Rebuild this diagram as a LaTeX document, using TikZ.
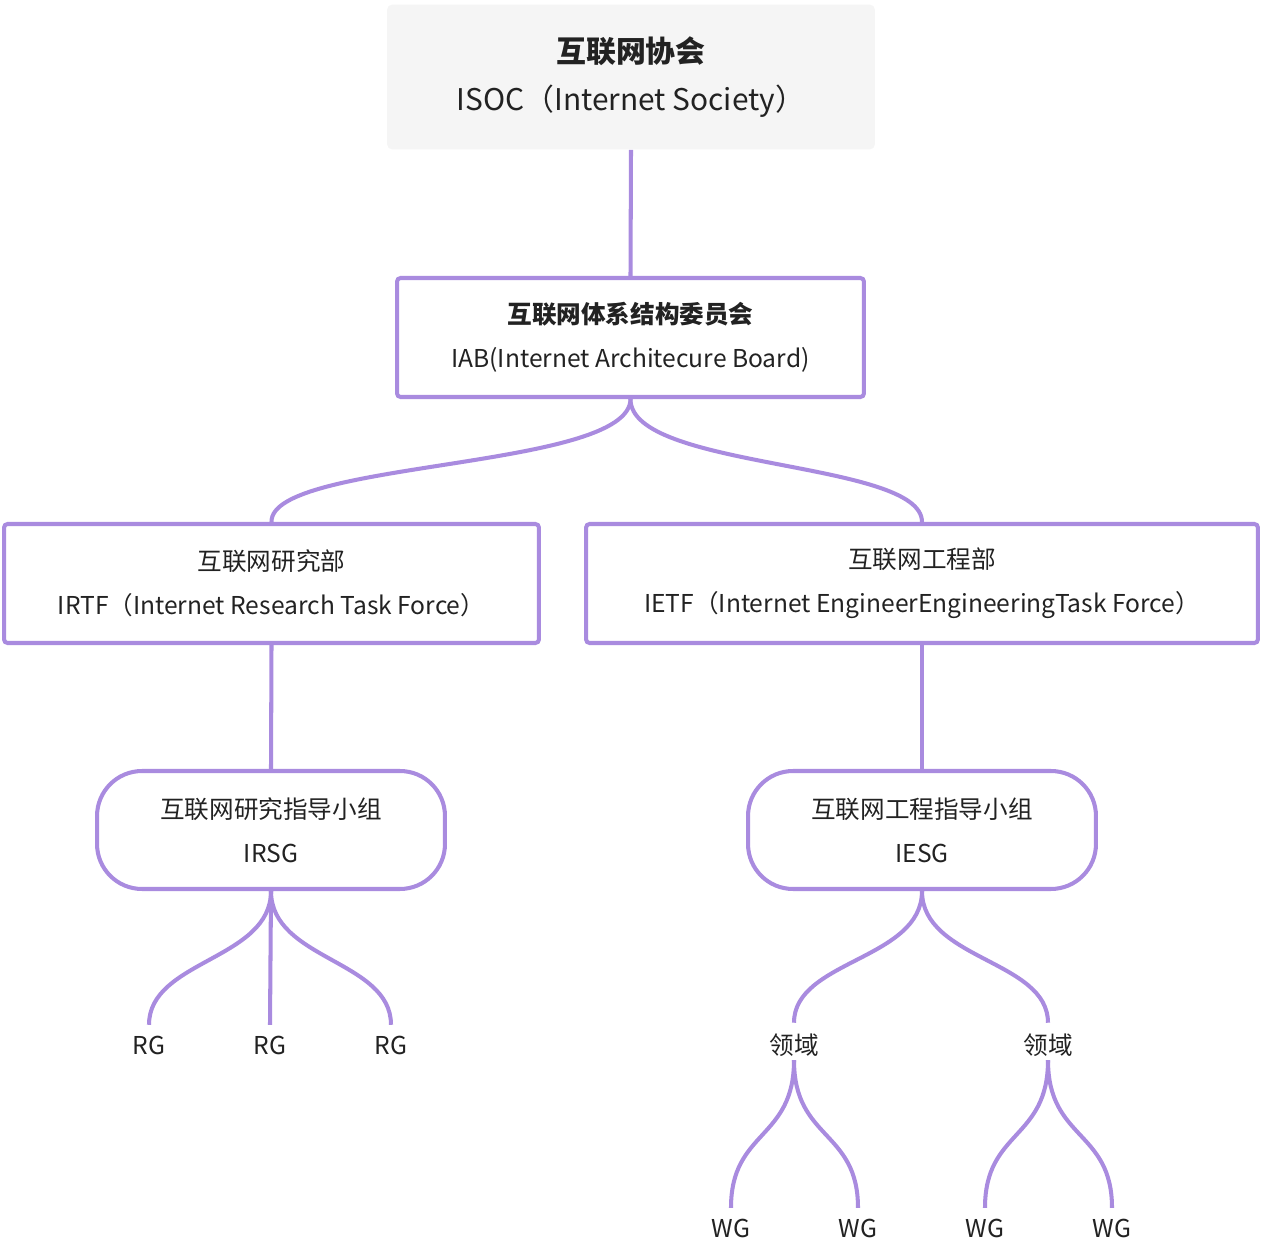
\documentclass[tikz,border=0pt]{standalone}
\usepackage{fontspec}
\setmainfont{Noto Sans CJK SC}
\definecolor{Link}{HTML}{A98BDF}
\definecolor{Top}{HTML}{F5F5F5}
\definecolor{Txt}{HTML}{222222}

\tikzset{
  box/.style={draw=Link, line width=2.3pt, rounded corners=2pt, align=center, text=Txt, inner sep=0pt},
  pill/.style={box, rounded corners=0.9cm},
  leaf/.style={text=Txt, inner sep=2pt},
  link/.style={draw=Link, line width=2.3pt},
}

\begin{document}
\begin{tikzpicture}[x=0.02cm, y=-0.02cm, font=\fontsize{14}{17}\selectfont]

 \useasboundingbox (0,0) rectangle (1262,1260);

 %%%%%%%%%% Boxes %%%%%%%%%%
 \node (isoc) [fill=Top, rounded corners=3pt, minimum width=9.76cm, minimum height=2.9cm, align=center, text=Txt] at (631,77)
   {{\fontsize{17}{20}\selectfont\bfseries 互联网协会}\\[10pt]{\fontsize{17}{20}\selectfont ISOC（Internet Society）}};
 \node (iab) [box, minimum width=9.34cm, minimum height=2.38cm] at (630.5,337.5)
   {{\bfseries 互联网体系结构委员会}\\[8pt]IAB(Internet Architecure Board)};
 \node (irtf) [box, minimum width=10.7cm, minimum height=2.38cm] at (271.5,583.5)
   {互联网研究部\\[8pt]IRTF（Internet Research Task Force）};
 \node (ietf) [box, minimum width=13.44cm, minimum height=2.38cm] at (922,583.5)
   {互联网工程部\\[8pt]IETF（Internet EngineerEngineeringTask Force）};
 \node (irsg) [pill, minimum width=6.96cm, minimum height=2.36cm] at (271,830)
   {互联网研究指导小组\\[8pt]IRSG};
 \node (iesg) [pill, minimum width=6.96cm, minimum height=2.36cm] at (922,830)
   {互联网工程指导小组\\[8pt]IESG};

 %%%%%%%%%% Leaves %%%%%%%%%%
 \node (rg1) [leaf] at (149,1045) {RG};
 \node (rg2) [leaf] at (270,1045) {RG};
 \node (rg3) [leaf] at (391,1045) {RG};
 \node (ly1) [leaf] at (794,1045) {领域};
 \node (ly2) [leaf] at (1048,1045) {领域};
 \node (wg1) [leaf] at (731,1228) {WG};
 \node (wg2) [leaf] at (858,1228) {WG};
 \node (wg3) [leaf] at (985,1228) {WG};
 \node (wg4) [leaf] at (1112,1228) {WG};

 %%%%%%%%%% Links %%%%%%%%%%
 \draw [link] (isoc.south) -- (iab.north);
 \draw [link] (iab.south) .. controls (630,470) and (270,460) .. (irtf.north);
 \draw [link] (iab.south) .. controls (630,470) and (922,460) .. (ietf.north);
 \draw [link] (irtf.south) -- (irsg.north);
 \draw [link] (ietf.south) -- (iesg.north);

 \draw [link] (irsg.south) .. controls (271,960) and (149,960) .. ([yshift=4pt]rg1.north);
 \draw [link] (irsg.south) -- ([yshift=4pt]rg2.north);
 \draw [link] (irsg.south) .. controls (271,960) and (391,960) .. ([yshift=4pt]rg3.north);

 \draw [link] (iesg.south) .. controls (922,960) and (794,960) .. ([yshift=4pt]ly1.north);
 \draw [link] (iesg.south) .. controls (922,960) and (1048,960) .. ([yshift=4pt]ly2.north);

 \draw [link] (ly1.south) .. controls (794,1140) and (731,1130) .. ([yshift=4pt]wg1.north);
 \draw [link] (ly1.south) .. controls (794,1140) and (858,1130) .. ([yshift=4pt]wg2.north);
 \draw [link] (ly2.south) .. controls (1048,1140) and (985,1130) .. ([yshift=4pt]wg3.north);
 \draw [link] (ly2.south) .. controls (1048,1140) and (1112,1130) .. ([yshift=4pt]wg4.north);

\end{tikzpicture}
\end{document}
